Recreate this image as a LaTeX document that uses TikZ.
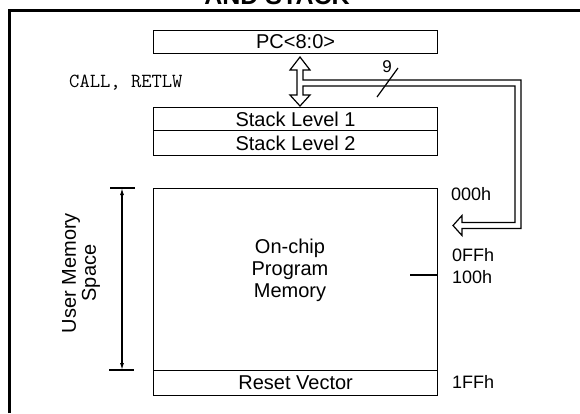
\documentclass[tikz,border=0pt]{standalone}
\usepackage{fontspec}
\setmainfont{Liberation Sans}
\usetikzlibrary{arrows.meta}
\begin{document}
\begin{tikzpicture}[x=1pt,y=-1pt,
  box/.style={draw, line width=1.2pt, rectangle, anchor=north west, minimum width=284pt, inner sep=0pt, font=\fontsize{20}{22}\selectfont},
  lbl/.style={font=\fontsize{18}{20}\selectfont, anchor=west, inner sep=0pt},
  thinline/.style={line width=1.2pt},
  dimarrows/.style={{Latex[length=7pt,width=4pt]}-{Latex[length=7pt,width=4pt]}}]
\useasboundingbox (0,0) rectangle (580,413);
\begin{scope}
  \clip (0,0) rectangle (580,413);
  \node[font=\fontsize{25}{28}\selectfont\bfseries, anchor=base, inner sep=0pt] (title) at (277,4) {AND STACK};
\end{scope}
\draw[line width=3pt] (9,413) -- (9,10) -- (580,10);

% boxes
\node[box, minimum height=23pt] (pc) at (153,30) {PC<8:0>};
\node[box, minimum height=23pt] (s1) at (153,107) {Stack Level 1};
\node[box, minimum height=25pt] (s2) at (153,130) {Stack Level 2};
\node[box, minimum height=182pt] (mem) at (153,188) {};
\node[box, minimum height=25pt] (rv) at (153,370) {Reset Vector};
\node[align=center, font=\fontsize{20}{22}\selectfont] (memtxt) at (290,270) {On-chip\\Program\\Memory};
\draw[thinline] (410,275) -- (437,275);

% address labels
\node[lbl] (a000) at (451,194) {000h};
\node[lbl] (a0ff) at (452,255) {0FFh};
\node[lbl] (a100) at (452,277) {100h};
\node[lbl] (a1ff) at (452,382) {1FFh};

% CALL label
\node[anchor=west, inner sep=0pt, font=\ttfamily\fontsize{20}{22}\selectfont] (call) at (69,83) {CALL, RETLW};

% fat arrows (double arrow + bus)
\draw[line width=1.2pt, line join=miter]
  (303,80) -- (521,80) -- (521,228.5) -- (462,228.5) -- (462,235.5) -- (453,225.5)
  -- (462,215.5) -- (462,222.5) -- (515,222.5) -- (515,86) -- (303,86)
  -- (303,95) -- (310,95) -- (300,106) -- (290,95) -- (297,95) -- (297,70)
  -- (290,70) -- (300,57) -- (310,70) -- (303,70) -- cycle;
\draw[thinline] (377,97) -- (398,68);
\node[font=\fontsize{17}{18}\selectfont, inner sep=0pt] (nine) at (387,67) {9};

% user memory dimension
\coordinate (dtop) at (122,188);
\coordinate (dbot) at (122,370);
\draw[thinline] (110,188) -- (135,188);
\draw[thinline] (109,370) -- (134,370);
\draw[thinline, dimarrows] (dtop) -- (dbot);
\node[rotate=90, align=center, font=\fontsize{20}{20}\selectfont] (ums) at (81,273) {User Memory\\Space};
\end{tikzpicture}
\end{document}
